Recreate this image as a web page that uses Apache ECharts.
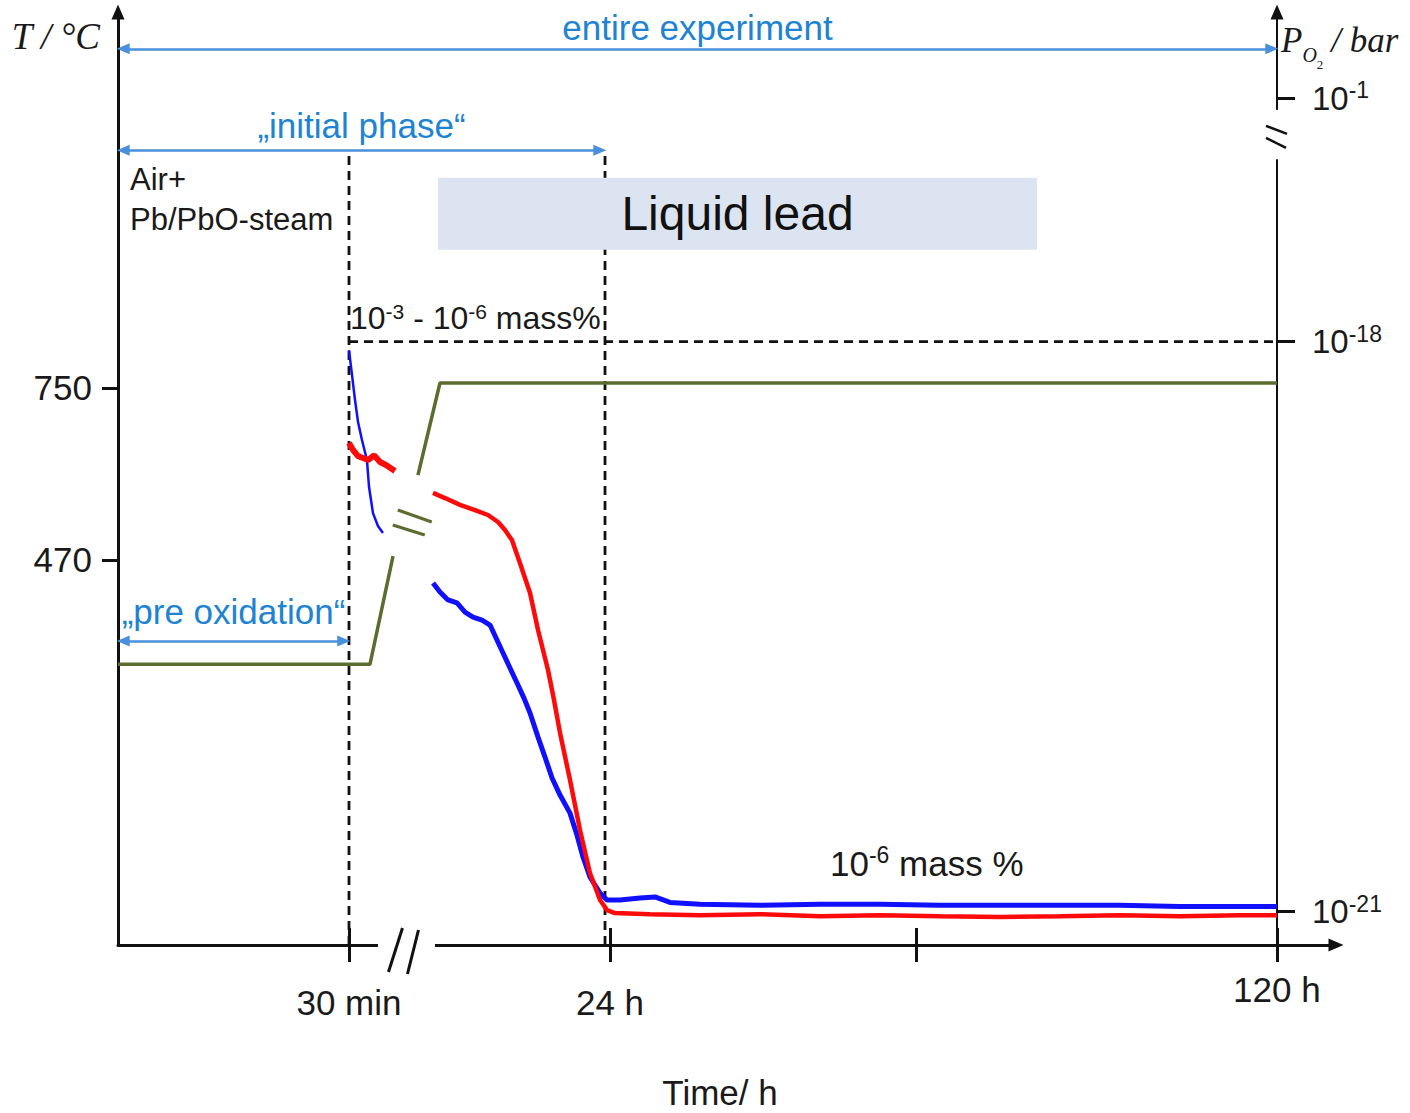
<!DOCTYPE html>
<html>
<head>
<meta charset="utf-8">
<script src="https://cdn.jsdelivr.net/npm/echarts@6/dist/echarts.min.js"></script>
<style>html,body{margin:0;padding:0;background:#fff}#c{width:1410px;height:1113px}</style>
</head>
<body>
<div id="c"></div>
<script>
// ---------- data (schematic time position: 0 = start of test, 100 = 120 h) ----------
const xTickPos = [19.93, 42.45, 68.85, 100];
const xTickLabels = ['30 min', '24 h', '', '120 h'];
const tTickVals = [470, 750];                 // T / °C
const poTickPos = [-21, -18, -16.72];          // schematic log10(PO2) positions (axis is broken above 10^-18)
const poTickExp = ['-21', '-18', '-1'];

// temperature programme (°C)
const tempBefore = [[0, 300], [21.74, 300], [23.73, 476]];
const tempAfter = [[25.88, 608], [27.78, 758], [100, 758]];

// oxygen sensor signals, log10(PO2 / bar)
const blueBefore = [[19.93,-18.044],[20.19,-18.175],[20.45,-18.307],[20.71,-18.423],[21.05,-18.517],[21.48,-18.623],[21.66,-18.765],[22.00,-18.902],[22.43,-18.970],[22.86,-19.007]];
const blueAfter = [[27.18,-19.270],[27.78,-19.317],[28.47,-19.359],[29.25,-19.375],[29.94,-19.423],[30.63,-19.449],[31.41,-19.465],[32.10,-19.491],[32.70,-19.570],[33.22,-19.638],[33.82,-19.717],[34.43,-19.796],[35.03,-19.876],[35.55,-19.954],[36.24,-20.081],[36.84,-20.186],[37.45,-20.296],[38.14,-20.386],[39.00,-20.481],[39.60,-20.596],[40.12,-20.712],[40.72,-20.817],[41.59,-20.902],[42.19,-20.938],[43.31,-20.938],[45.04,-20.928],[46.33,-20.922],[47.63,-20.951],[50.22,-20.961],[55.39,-20.966],[60.57,-20.961],[65.75,-20.961],[70.92,-20.966],[76.10,-20.966],[81.28,-20.966],[86.45,-20.966],[91.63,-20.972],[96.81,-20.972],[100,-20.972]];
const redBefore = [[19.93,-18.533],[20.28,-18.570],[20.71,-18.602],[21.14,-18.612],[21.57,-18.623],[22.09,-18.598],[22.61,-18.633],[23.12,-18.649],[23.90,-18.681]];
const redAfter = [[27.18,-18.796],[28.21,-18.823],[29.51,-18.859],[30.80,-18.886],[31.92,-18.912],[32.79,-18.949],[33.39,-18.991],[33.99,-19.044],[34.68,-19.165],[35.55,-19.323],[36.24,-19.517],[37.10,-19.728],[37.62,-19.886],[38.14,-20.059],[39.00,-20.307],[39.86,-20.570],[40.72,-20.796],[41.59,-20.938],[42.19,-20.991],[42.88,-21.007],[45.90,-21.013],[50.22,-21.018],[55.39,-21.013],[60.57,-21.024],[65.75,-21.018],[70.92,-21.024],[76.10,-21.028],[81.28,-21.024],[86.45,-21.018],[91.63,-21.024],[96.81,-21.018],[100,-21.018]];

// phases and annotations
const phaseEnds = {pre: 19.93, initial: 42.02, total: 100};
const phaseLabels = ['entire experiment', '„initial phase“', '„pre oxidation“'];
const phaseArrowT = [1302, 1137, 338];          // arrow heights on T scale
const liquidLead = {label: 'Liquid lead', x0: 27.61, x1: 79.29, t0: 1092, t1: 975};
const po2Ref = -18;

// ---------- styling ----------
const FONT = '"Liberation Sans", Arial, Helvetica, sans-serif';
const SERIF = '"Liberation Serif", "Times New Roman", serif';
const INK = '#1a1a1a';
const BLUE_TXT = '#2083d2';
const BLUE_LINE = '#4a8fdc';
const GREEN = '#5a6d2f';
const T_MIN = -157, T_MAX = 1362, P_MIN = -21.175, P_MAX = -16.265, X_MAX = 105.1;
const dashStyle = {color: '#111', width: 2.8, type: [9, 6]};

const chart = echarts.init(document.getElementById('c'), null, {renderer: 'svg'});

const arrowEnds = [[0, phaseEnds.total], [0, phaseEnds.initial], [0, phaseEnds.pre]];
const arrowLabelGap = [4, 7, 12];
const tickStyle = {color: '#111', width: 3};

const option = {
  animation: false,
  backgroundColor: '#fff',
  grid: [
    {left: 118, right: 133, top: 12, bottom: 168, containLabel: false, outerBoundsMode: 'none'},
    {left: 118, right: 74, top: 12, bottom: 168, containLabel: false, outerBoundsMode: 'none'}
  ],
  xAxis: [
    { // data axis (0 .. 120 h position), ticks below the line and labels
      gridIndex: 0, type: 'value', min: 0, max: 100, position: 'bottom',
      axisLine: {show: false, onZero: false},
      axisTick: {show: true, customValues: xTickPos, length: 17, lineStyle: tickStyle},
      axisLabel: {customValues: [xTickPos[0], xTickPos[1]], formatter: v => xTickLabels[xTickPos.indexOf(v)],
        margin: 40, fontSize: 35, color: INK, fontFamily: FONT},
      splitLine: {show: false}
    },
    { // drawn axis line with arrow, ticks above the line
      gridIndex: 1, type: 'value', min: 0, max: X_MAX, position: 'bottom',
      axisLine: {show: true, onZero: false, lineStyle: {color: '#111', width: 3}, symbol: ['none', 'triangle'], symbolSize: [13, 15]},
      axisTick: {show: true, inside: true, customValues: xTickPos, length: 17, lineStyle: tickStyle},
      axisLabel: {customValues: [xTickPos[3]], formatter: v => xTickLabels[xTickPos.indexOf(v)],
        margin: 27, fontSize: 35, color: INK, fontFamily: FONT},
      splitLine: {show: false},
      name: 'Time/ h', nameLocation: 'middle', nameGap: 130,
      nameTextStyle: {fontSize: 35, color: INK, fontFamily: FONT, padding: [0, 14, 0, 0]}
    }
  ],
  yAxis: [
    {
      gridIndex: 0, type: 'value', position: 'left', min: T_MIN, max: T_MAX,
      axisLine: {show: true, onZero: false, lineStyle: {color: '#111', width: 3}, symbol: ['none', 'triangle'], symbolSize: [13, 15]},
      axisTick: {show: true, customValues: tTickVals, length: 16, lineStyle: tickStyle},
      axisLabel: {customValues: tTickVals, margin: 26, fontSize: 35, color: INK, fontFamily: FONT},
      splitLine: {show: false}
    },
    {
      gridIndex: 0, type: 'value', position: 'right', min: P_MIN, max: P_MAX,
      axisLine: {show: true, onZero: false, lineStyle: {color: '#111', width: 2}, symbol: ['none', 'triangle'], symbolSize: [13, 15]},
      axisTick: {show: true, customValues: poTickPos, length: 18, lineStyle: tickStyle},
      axisLabel: {customValues: poTickPos, margin: 35, fontSize: 33, color: INK, fontFamily: FONT,
        formatter: v => '10{s|' + poTickExp[poTickPos.indexOf(v)] + '}',
        rich: {s: {fontSize: 23, color: INK, fontFamily: FONT, padding: [0, 0, 16, 0]}}},
      splitLine: {show: false}
    },
    {
      gridIndex: 1, type: 'value', min: T_MIN, max: T_MAX, show: false
    }
  ],
  series: [
    {type: 'line', yAxisIndex: 0, z: 1, silent: true, symbol: 'none', lineStyle: dashStyle,
      data: [[phaseEnds.pre, T_MIN], [phaseEnds.pre, phaseArrowT[1]]]},
    {type: 'line', yAxisIndex: 0, z: 1, silent: true, symbol: 'none', lineStyle: dashStyle,
      data: [[phaseEnds.initial, T_MIN], [phaseEnds.initial, phaseArrowT[1]]]},
    {type: 'line', yAxisIndex: 1, z: 1, silent: true, symbol: 'none', lineStyle: dashStyle,
      data: [[phaseEnds.pre, po2Ref], [phaseEnds.total, po2Ref]]},
    {type: 'line', yAxisIndex: 0, z: 2, silent: true, symbol: 'none', lineStyle: {color: GREEN, width: 3.5},
      data: tempBefore,
      markLine: {
        silent: true, symbol: ['triangle', 'triangle'], symbolSize: [11, 13],
        lineStyle: {color: BLUE_LINE, width: 2.5, type: 'solid'},
        label: {show: true, position: 'insideMiddleTop', distance: 8, color: BLUE_TXT, fontSize: 35, fontFamily: FONT, formatter: '{b}'},
        emphasis: {disabled: true},
        data: phaseLabels.map((lab, i) => [
          {name: lab, coord: [arrowEnds[i][0] + 0.45, phaseArrowT[i]], label: {distance: arrowLabelGap[i]}},
          {coord: [arrowEnds[i][1] - 0.45, phaseArrowT[i]]}
        ])
      }
    },
    {type: 'line', yAxisIndex: 0, z: 2, silent: true, symbol: 'none', lineStyle: {color: GREEN, width: 3.5},
      data: tempAfter,
      markArea: {
        silent: true, z: 3,
        itemStyle: {color: '#dbe4f0'},
        label: {show: true, position: 'inside', fontSize: 48, color: '#111', fontFamily: FONT, formatter: '{b}'},
        emphasis: {disabled: true},
        data: [[{name: liquidLead.label, coord: [liquidLead.x0, liquidLead.t0]}, {coord: [liquidLead.x1, liquidLead.t1]}]]
      }
    },
    {type: 'line', yAxisIndex: 1, z: 2, silent: true, symbol: 'none', lineStyle: {color: '#1010ff', width: 2.5}, data: blueBefore},
    {type: 'line', yAxisIndex: 1, z: 2, silent: true, symbol: 'none', lineStyle: {color: '#1010ff', width: 5}, data: blueAfter},
    {type: 'line', yAxisIndex: 1, z: 3, silent: true, symbol: 'none', lineStyle: {color: '#ff0a0a', width: 6}, data: redBefore},
    {type: 'line', yAxisIndex: 1, z: 3, silent: true, symbol: 'none', lineStyle: {color: '#ff0a0a', width: 4.5}, data: redAfter}
  ]
};
chart.setOption(option);

// ---------- decorations and free text ----------
const X = v => chart.convertToPixel({xAxisIndex: 0}, v);
const YT = v => chart.convertToPixel({yAxisIndex: 0}, v);
const YP = v => chart.convertToPixel({yAxisIndex: 1}, v);

const axisY = YT(T_MIN);
const gapL = X(22.43), gapR = X(27.35), gapMid = (gapL + gapR) / 2;
const rAxisX = X(phaseEnds.total);
const rGapTop = YP(-16.78), rGapBot = YP(-17.04);
const gA = [X(25.0), YT(530)];
const ink = {stroke: '#111', lineWidth: 3};
const txt = (text, x, y, extra) => ({type: 'text', x, y, z: 100,
  style: Object.assign({text, fill: INK, fontSize: 30, fontFamily: FONT, align: 'left', verticalAlign: 'middle'}, extra || {})});

chart.setOption({
  graphic: [
    // x-axis break
    {type: 'rect', z: 100, shape: {x: gapL, y: axisY - 6, width: gapR - gapL, height: 12}, style: {fill: '#fff'}},
    {type: 'line', z: 101, shape: {x1: gapMid - 18, y1: axisY + 27, x2: gapMid - 4, y2: axisY - 17}, style: ink},
    {type: 'line', z: 101, shape: {x1: gapMid + 1, y1: axisY + 29, x2: gapMid + 12, y2: axisY - 15}, style: ink},
    // right-axis break
    {type: 'rect', z: 100, shape: {x: rAxisX - 5, y: rGapTop, width: 10, height: rGapBot - rGapTop}, style: {fill: '#fff'}},
    {type: 'line', z: 101, shape: {x1: rAxisX - 11, y1: rGapTop + 16, x2: rAxisX + 10, y2: rGapTop + 24}, style: {stroke: '#111', lineWidth: 2.5}},
    {type: 'line', z: 101, shape: {x1: rAxisX - 11, y1: rGapTop + 28, x2: rAxisX + 9, y2: rGapTop + 38}, style: {stroke: '#111', lineWidth: 2.5}},
    // temperature-line break marks
    {type: 'line', z: 101, shape: {x1: gA[0] - 10, y1: gA[1] - 13, x2: gA[0] + 24, y2: gA[1] - 1}, style: {stroke: GREEN, lineWidth: 3}},
    {type: 'line', z: 101, shape: {x1: gA[0] - 15, y1: gA[1] + 2, x2: gA[0] + 17, y2: gA[1] + 12}, style: {stroke: GREEN, lineWidth: 3}},
    // axis titles
    txt('T / °C', X(0) - 18, 36, {fontFamily: SERIF, fontStyle: 'italic', fontSize: 37, align: 'right'}),
    txt('{p|P}{o|O}{t|2}{r|/ bar}', rAxisX + 4, 40, {
      rich: {
        p: {fontSize: 35, fontFamily: SERIF, fontStyle: 'italic', fill: INK},
        o: {fontSize: 20, fontFamily: SERIF, fontStyle: 'italic', fill: INK, padding: [30, 0, 0, 0]},
        t: {fontSize: 13, fontFamily: SERIF, fill: INK, padding: [48, 0, 0, 0]},
        r: {fontSize: 35, fontFamily: SERIF, fontStyle: 'italic', fill: INK, padding: [0, 0, 0, 8]}
      }
    }),
    // annotations
    txt('Air+', 130, 179, {fontSize: 31}),
    txt('Pb/PbO-steam', 130, 219, {fontSize: 31}),
    txt('10{s|-3} - 10{s|-6} mass%', 350, 318, {fontSize: 32,
      rich: {s: {fontSize: 21, fontFamily: FONT, fill: INK, padding: [0, 0, 14, 0]}}}),
    txt('10{s|-6} mass %', 830, 863, {fontSize: 35,
      rich: {s: {fontSize: 23, fontFamily: FONT, fill: INK, padding: [0, 0, 16, 0]}}})
  ]
});
</script>
</body>
</html>
